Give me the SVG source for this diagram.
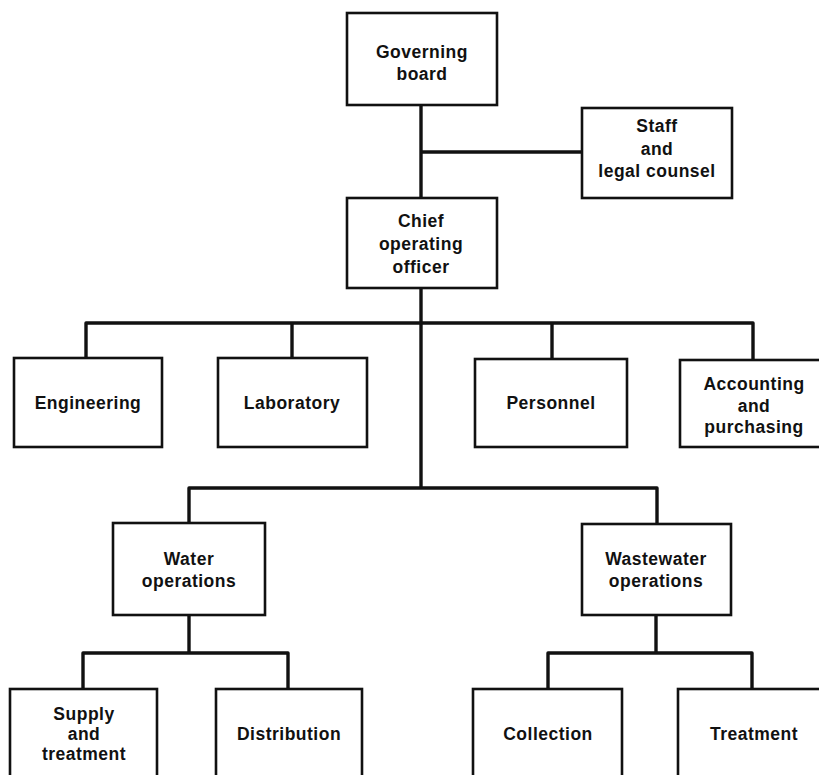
<svg xmlns="http://www.w3.org/2000/svg" width="819" height="775" viewBox="0 0 819 775">
  <style>
    .box { fill: #ffffff; stroke: #111111; stroke-width: 2.6; }
    .wire { fill: none; stroke: #111111; stroke-width: 3.4; stroke-linejoin: round; }
    .lbl { font-family: "Liberation Sans", Arial, sans-serif; font-weight: bold; font-size: 17.5px; letter-spacing: 0.5px; fill: #111111; text-anchor: middle; }
  </style>
  <rect width="819" height="775" fill="#ffffff"/>

  <!-- connectors -->
  <g id="connectors" class="wire">
    <path d="M421 105 V198"/>
    <path d="M421 152 H582"/>
    <path d="M421 288 V488"/>
    <path d="M86 358 V323 H753 V360"/>
    <path d="M292 323 V358"/>
    <path d="M552 323 V359"/>
    <path d="M189 523 V488 H657 V524"/>
    <path d="M189 615 V653"/>
    <path d="M83 689 V653 H288 V689"/>
    <path d="M656 615 V653"/>
    <path d="M548 689 V653 H752 V689"/>
  </g>

  <g id="governing-board">
    <rect class="box" x="347" y="13" width="150" height="92"/>
    <text class="lbl" x="422" y="58">Governing</text>
    <text class="lbl" x="422" y="80">board</text>
  </g>

  <g id="staff-legal">
    <rect class="box" x="582" y="108" width="150" height="90"/>
    <text class="lbl" x="657" y="132">Staff</text>
    <text class="lbl" x="657" y="155">and</text>
    <text class="lbl" x="657" y="177">legal counsel</text>
  </g>

  <g id="chief-operating-officer">
    <rect class="box" x="347" y="198" width="150" height="90"/>
    <text class="lbl" x="421" y="227">Chief</text>
    <text class="lbl" x="421" y="250">operating</text>
    <text class="lbl" x="421" y="273">officer</text>
  </g>

  <g id="engineering">
    <rect class="box" x="14" y="358" width="148" height="89"/>
    <text class="lbl" x="88" y="409">Engineering</text>
  </g>

  <g id="laboratory">
    <rect class="box" x="218" y="358" width="149" height="89"/>
    <text class="lbl" x="292" y="409">Laboratory</text>
  </g>

  <g id="personnel">
    <rect class="box" x="475" y="359" width="152" height="88"/>
    <text class="lbl" x="551" y="409">Personnel</text>
  </g>

  <g id="accounting-purchasing">
    <rect class="box" x="680" y="360" width="152" height="87"/>
    <text class="lbl" x="754" y="390">Accounting</text>
    <text class="lbl" x="754" y="412">and</text>
    <text class="lbl" x="754" y="433">purchasing</text>
  </g>

  <g id="water-operations">
    <rect class="box" x="113" y="523" width="152" height="92"/>
    <text class="lbl" x="189" y="565">Water</text>
    <text class="lbl" x="189" y="587">operations</text>
  </g>

  <g id="wastewater-operations">
    <rect class="box" x="582" y="524" width="149" height="91"/>
    <text class="lbl" x="656" y="565">Wastewater</text>
    <text class="lbl" x="656" y="587">operations</text>
  </g>

  <g id="supply-treatment">
    <rect class="box" x="10" y="689" width="147" height="100"/>
    <text class="lbl" x="84" y="720">Supply</text>
    <text class="lbl" x="84" y="740">and</text>
    <text class="lbl" x="84" y="760">treatment</text>
  </g>

  <g id="distribution">
    <rect class="box" x="216" y="689" width="146" height="100"/>
    <text class="lbl" x="289" y="740">Distribution</text>
  </g>

  <g id="collection">
    <rect class="box" x="473" y="689" width="149" height="100"/>
    <text class="lbl" x="548" y="740">Collection</text>
  </g>

  <g id="treatment">
    <rect class="box" x="678" y="689" width="152" height="100"/>
    <text class="lbl" x="754" y="740">Treatment</text>
  </g>
</svg>
